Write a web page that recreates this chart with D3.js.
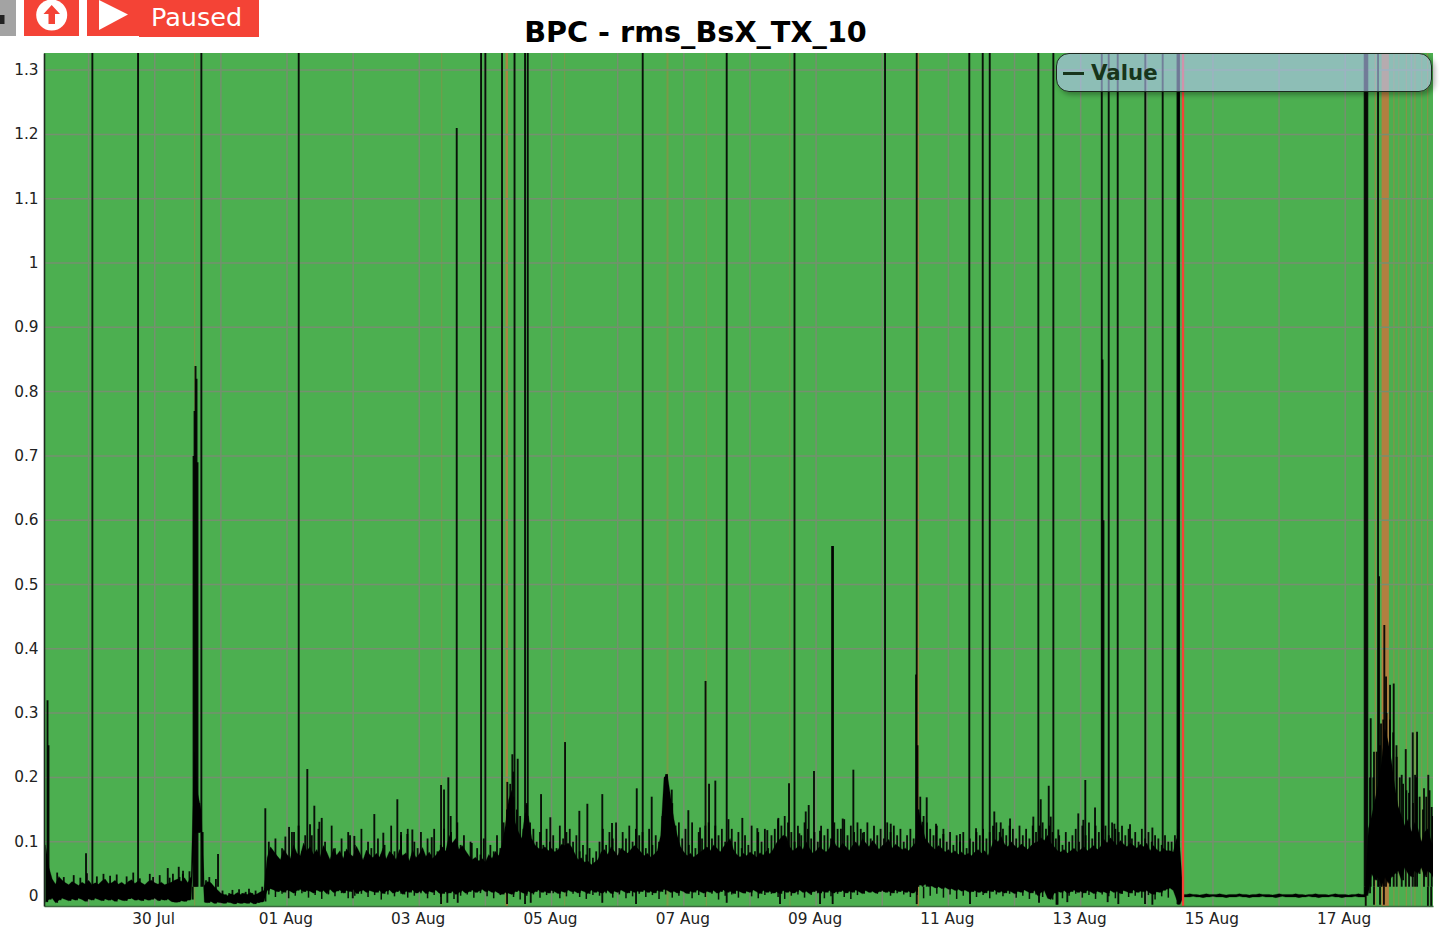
<!DOCTYPE html>
<html>
<head>
<meta charset="utf-8">
<script src="https://cdnjs.cloudflare.com/ajax/libs/d3/7.8.5/d3.min.js"></script>
<style>
html,body{margin:0;padding:0;background:#fff;overflow:hidden}
#wrap{position:relative;width:1444px;height:943px}
svg{position:absolute;left:0;top:0}
#legend{position:absolute;left:1056px;top:53px;width:374px;height:37px;border:1px solid #1c2a1e;border-radius:13px;
 background:rgba(185,200,250,.6);box-shadow:3px 3px 5px rgba(0,0,0,.3)}
#legend i{position:absolute;left:6px;top:18px;width:21px;height:2.5px;background:#17351b}
#legend span{position:absolute;left:34px;top:5px;font:bold 21.3px "DejaVu Sans";color:#17351b;line-height:28px}
</style>
</head>
<body>
<div id="wrap"><svg id="chart" width="1444" height="943"></svg>
<div id="legend"><i></i><span id="legendText"></span></div></div>
<script>
const titleText = "BPC - rms_BsX_TX_10";
const legendLabel = "Value";
const pausedLabel = "Paused";
const timeDomain = ["2021-07-28T07:49Z", "2021-08-18T07:51Z"];
const valueDomain = [0, 1.3266];
const valueTicks = [0,0.1,0.2,0.3,0.4,0.5,0.6,0.7,0.8,0.9,1,1.1,1.2,1.3];
const labelledDays = ["2021-07-30","2021-08-01","2021-08-03","2021-08-05","2021-08-07","2021-08-09","2021-08-11","2021-08-13","2021-08-15","2021-08-17"];
const labelledDayText = ["30 Jul","01 Aug","03 Aug","05 Aug","07 Aug","09 Aug","11 Aug","13 Aug","15 Aug","17 Aug"];
const gridDays = ["2021-07-29","2021-07-30","2021-07-31","2021-08-01","2021-08-02","2021-08-03","2021-08-04","2021-08-05","2021-08-06","2021-08-07","2021-08-08","2021-08-09","2021-08-10","2021-08-11","2021-08-12","2021-08-13","2021-08-14","2021-08-15","2021-08-16","2021-08-17","2021-08-18"];

// All times: days relative to 30 Jul 00:00. The noise band is read every 0.05 day from -1.65.
const bandFirstDay = -1.65, bandStep = 0.05;
const bandHigh = [
.095,.060,.042,.034,.046,.040,.036,.033,.038,.035,.032,.037,.034,.040,.033,.036,.034,.039,.042,.035,
.036,.040,.034,.037,.033,.038,.041,.035,.039,.036,.033,.038,.040,.036,.034,.037,.033,.035,.037,.040,
.042,.038,.044,.036,.046,.240,.175,.150,.032,.038,.036,.030,.025,.020,.018,.016,.019,.017,.021,.018,
.020,.018,.021,.017,.019,.022,.024,.075,.092,.085,.078,.072,.088,.080,.074,.095,.082,.078,.098,.086,
.092,.080,.088,.076,.094,.084,.072,.090,.079,.086,.074,.089,.081,.077,.093,.083,.071,.087,.080,.075,
.082,.076,.090,.073,.085,.080,.072,.088,.078,.083,.070,.087,.075,.081,.091,.077,.084,.074,.079,.086,
.092,.085,.110,.098,.105,.088,.094,.086,.078,.072,.076,.070,.074,.068,.080,.074,.085,.078,.095,.125,
.165,.180,.130,.115,.105,.145,.140,.105,.095,.090,.088,.092,.086,.090,.084,.088,.096,.094,.098,.092,
.082,.072,.075,.068,.070,.064,.068,.072,.084,.088,.080,.092,.085,.078,.090,.086,.082,.088,.094,.090,
.084,.078,.082,.076,.080,.086,.110,.200,.205,.170,.135,.110,.092,.084,.078,.082,.076,.080,.084,.088,
.092,.086,.095,.090,.084,.092,.098,.105,.088,.080,.076,.082,.078,.084,.080,.076,.083,.079,.086,.081,
.088,.098,.104,.110,.108,.092,.086,.090,.094,.088,.100,.090,.082,.086,.092,.088,.084,.090,.105,.094,
.090,.098,.092,.086,.094,.100,.092,.105,.098,.092,.102,.096,.088,.094,.098,.104,.090,.096,.092,.088,
.090,.086,.092,.098,.150,.125,.105,.098,.092,.088,.094,.090,.084,.088,.082,.086,.080,.084,.079,.082,
.078,.084,.088,.082,.086,.078,.092,.104,.100,.108,.096,.092,.100,.094,.090,.096,.092,.088,.094,.098,
.100,.106,.102,.110,.098,.092,.086,.084,.088,.082,.086,.090,.084,.088,.092,.086,.090,.094,.088,.092,
.104,.098,.106,.100,.094,.102,.096,.092,.098,.094,.090,.096,.092,.098,.086,.094,.088,.084,.090,.086,
.086,.084,.105,.090,.018,.018,.019,.018,.018,.017,.018,.019,.018,.018,.018,.019,.018,.017,.018,.018,
.018,.019,.018,.018,.017,.018,.018,.019,.018,.018,.018,.017,.018,.019,.018,.018,.018,.018,.019,.018,
.018,.017,.018,.018,.019,.018,.018,.018,.017,.018,.019,.018,.018,.018,.017,.018,.018,.019,.018,.018,
.120,.140,.165,.190,.225,.275,.255,.225,.185,.155,.140,.125,.135,.115,.130,.120,.100,.115,.120,.100,
.090];
const bandLow = [
.006,.010,.012,.005,.009,.012,.010,.008,.011,.009,.012,.010,.007,.011,.009,.012,.010,.008,.011,.009,
.010,.007,.011,.009,.008,.011,.012,.009,.010,.008,.011,.009,.010,.012,.008,.010,.009,.011,.007,.006,
.006,.008,.007,.009,.010,.113,.114,.115,.006,.005,.007,.004,.006,.005,.004,.006,.005,.003,.005,.004,
.005,.004,.006,.003,.005,.006,.007,.024,.027,.025,.022,.024,.021,.025,.023,.020,.024,.026,.022,.024,
.023,.020,.025,.022,.024,.019,.026,.021,.023,.025,.020,.024,.022,.026,.019,.023,.025,.021,.024,.022,
.021,.024,.019,.023,.025,.020,.022,.024,.018,.023,.021,.025,.020,.022,.024,.019,.023,.021,.025,.020,
.019,.022,.020,.023,.018,.021,.024,.020,.022,.025,.021,.023,.026,.022,.024,.021,.023,.020,.018,.021,
.020,.018,.022,.024,.021,.019,.023,.020,.022,.025,.021,.023,.020,.024,.022,.019,.023,.021,.025,.022,
.023,.020,.024,.022,.019,.025,.021,.023,.020,.022,.024,.019,.023,.021,.025,.022,.020,.024,.021,.023,
.022,.025,.021,.023,.020,.024,.022,.026,.024,.021,.023,.020,.024,.022,.019,.023,.021,.025,.022,.020,
.023,.021,.024,.020,.022,.025,.021,.023,.019,.024,.022,.020,.023,.021,.025,.022,.019,.024,.021,.023,
.020,.022,.019,.024,.021,.023,.020,.022,.025,.021,.023,.019,.022,.024,.020,.023,.021,.024,.020,.022,
.022,.024,.020,.023,.021,.025,.022,.019,.024,.021,.023,.020,.022,.024,.021,.023,.020,.025,.022,.024,
.021,.023,.020,.022,.033,.032,.034,.030,.031,.028,.030,.027,.029,.026,.027,.024,.026,.023,.025,.022,
.022,.024,.021,.023,.020,.024,.022,.025,.021,.023,.020,.024,.022,.019,.023,.021,.025,.022,.020,.024,
.016,.021,.024,.012,.010,.020,.023,.021,.024,.020,.022,.025,.021,.023,.020,.024,.022,.019,.023,.021,
.022,.020,.024,.021,.023,.019,.024,.022,.020,.025,.021,.023,.022,.024,.020,.018,.022,.021,.024,.026,
.028,.024,.010,.002,.014,.014,.014,.015,.014,.014,.013,.014,.014,.015,.014,.014,.014,.013,.014,.014,
.014,.015,.014,.014,.013,.014,.014,.014,.015,.014,.014,.014,.013,.014,.015,.014,.014,.014,.014,.013,
.014,.014,.015,.014,.014,.013,.014,.014,.014,.015,.014,.014,.013,.014,.014,.014,.015,.014,.014,.014,
.020,.050,.040,.045,.030,.045,.035,.045,.050,.055,.040,.060,.050,.045,.055,.050,.060,.045,.055,.050,
.040];

// Short peaks read between the band samples (half a step later); 0 means none.
const peakHigh = [
.050,.030,.030,.052,.030,.045,.030,.030,.048,.030,.044,.030,.051,.030,.030,.046,.030,.050,.030,.047,
.030,.049,.030,.030,.046,.030,.052,.030,.043,.030,.030,.050,.045,.030,.048,.030,.030,.044,.050,.030,
.045,.050,.030,.054,.030,.180,.160,.030,.040,.045,.030,.042,.020,.024,.018,.020,.025,.019,.026,.020,
.022,.027,.020,.024,.018,.030,.028,.100,.080,.105,.070,.090,.108,.075,.115,.080,.125,.085,.110,.075,
.110,.075,.120,.080,.100,.070,.125,.090,.075,.105,.085,.115,.070,.095,.080,.120,.075,.100,.090,.070,
.105,.080,.095,.070,.125,.085,.075,.110,.080,.120,.070,.100,.090,.115,.075,.105,.080,.120,.085,.095,
.120,.090,.140,.085,.130,.095,.110,.080,.100,.070,.090,.080,.105,.070,.095,.085,.110,.090,.130,.150,
.190,.170,.150,.140,.120,.160,.130,.120,.100,.115,.095,.120,.100,.110,.090,.125,.105,.115,.120,.100,
.110,.085,.095,.080,.090,.075,.085,.100,.120,.095,.115,.105,.130,.090,.115,.105,.125,.100,.120,.110,
.115,.090,.120,.095,.110,.100,.140,.190,.170,.160,.125,.130,.105,.120,.095,.130,.090,.115,.105,.125,
.130,.105,.125,.110,.120,.100,.135,.120,.100,.115,.090,.110,.095,.125,.085,.115,.100,.120,.090,.110,
.120,.135,.125,.140,.130,.115,.100,.125,.110,.130,.120,.105,.115,.100,.125,.110,.120,.105,.130,.120,
.120,.135,.110,.125,.115,.130,.120,.115,.130,.105,.125,.110,.120,.105,.130,.115,.125,.110,.120,.100,
.110,.120,.105,.130,.170,.140,.130,.120,.110,.125,.105,.120,.100,.115,.095,.110,.100,.115,.090,.105,
.100,.115,.110,.120,.105,.115,.125,.130,.115,.120,.110,.125,.120,.105,.125,.110,.120,.105,.125,.115,
.125,.130,.120,.125,.115,.105,.110,.095,.115,.100,.110,.120,.100,.125,.110,.130,.105,.125,.115,.120,
.125,.110,.130,.120,.115,.125,.110,.120,.105,.115,.100,.120,.105,.115,.100,.110,.105,.095,.110,.100,
.100,.110,.120,0,0,0,0,0,0,0,0,0,0,0,0,0,0,0,0,0,
0,0,0,0,0,0,0,0,0,0,0,0,0,0,0,0,0,0,0,0,
0,0,0,0,0,0,0,0,0,0,0,0,0,0,0,0,0,0,0,0,
.200,.200,.240,.250,.290,.300,.290,.270,.250,.200,.190,.180,.200,.160,.200,.170,.150,.170,.180,.140];

// Short troughs under the band, read every 0.1 day from 1.725.
const troughFirstDay = 1.725, troughStep = 0.1;
const troughLow = [
.018,.014,.019,.012,.016,.020,.013,.017,.011,.018,.015,.020,.012,.016,.019,.014,.017,.010,.018,.015,
.019,.013,.016,.020,.012,.017,.014,.019,.011,.016,.018,.013,.020,.015,.012,.017,.019,.014,.010,.016,
.018,.013,.017,.020,.012,.015,.019,.014,.011,.017,.016,.020,.013,.018,.012,.015,.019,.014,.017,.011,
.018,.013,.016,.020,.012,.017,.014,.019,.010,.016,.018,.013,.020,.015,.012,.017,.019,.014,.011,.016,
.018,.013,.017,.020,.012,.015,.019,.014,.011,.017,.021,.024,.019,.022,.016,.020,.018,.014,.017,.012,
.016,.019,.013,.018,.011,.016,.020,.014,.017,.012,.018,.015,.019,.013,.016,.011,.018,.014,.017,.020,
.012,.016,.019,.013,.017,.011,.018,.015,.012,.019,.014,.016,.013,.017,.010,.015,.013];

// Spikes that run off the top of the plot.
const fullSpikeDays = [-0.943,-0.252,0.705,2.177,4.934,4.999,5.251,5.440,5.599,5.640,7.378,8.648,9.673,11.042,11.521,12.316,12.519,12.625,13.360,13.587,14.319,14.424,14.560,14.977,15.240,15.464,15.476,15.488,18.294,18.314,18.334,18.496];
const fullSpikeTop = 1.33;

// Spikes that end inside the plot.
const spikeDays = [-1.621,-1.606,-1.039,0.197,0.363,0.428,0.587,0.602,0.617,0.632,0.647,0.957,1.672,2.031,2.106,2.307,2.348,2.413,2.489,2.525,2.953,3.018,3.320,3.456,3.668,3.724,3.819,3.895,4.188,4.329,4.374,4.439,4.480,4.566,4.793,5.331,5.407,5.422,5.488,5.624,5.841,5.981,6.204,6.420,6.541,6.767,6.914,7.288,7.514,7.716,7.731,7.746,7.817,8.068,8.245,8.328,8.381,8.476,8.884,9.111,9.262,9.429,9.590,9.746,9.843,9.888,9.968,10.059,10.241,10.256,10.402,10.563,10.705,11.128,11.511,11.533,11.548,11.612,11.672,11.813,11.923,12.176,12.418,12.694,12.791,12.932,13.109,13.284,13.396,13.517,13.547,13.662,13.964,14.040,14.070,14.217,14.330,14.345,14.509,14.746,15.084,18.385,18.435,18.511,18.541,18.591,18.617,18.678,18.733,18.778,18.854,18.915,18.965,19.021,19.056,19.086,19.191,19.256,19.307];
const spikeTops = [.320,.250,.082,.059,.061,.055,.700,.770,.840,.820,.690,.081,.152,.123,.115,.213,.127,.156,.131,.137,.110,.109,.143,.114,.166,.115,.112,.119,.107,.188,.181,.200,.115,1.210,.098,.193,.236,.209,.229,.157,.174,.138,.255,.148,.159,.174,.129,.183,.170,.200,.205,.205,.181,.149,.122,.350,.190,.195,.137,.121,.118,.137,.191,.113,.147,.157,.210,.117,.560,.560,.136,.212,.114,.128,.360,.250,.150,.131,.169,.128,.112,.112,.121,.147,.130,.136,.096,.139,.166,.187,.139,.119,.144,.134,.196,.153,.850,.600,.128,.127,.122,.292,.240,.513,.284,.437,.357,.344,.346,.232,.204,.244,.176,.270,.204,.271,.183,.204,.154];

// Downward excursions below the noise band.
const dipDays = [2.994,4.329,4.424,4.581,5.327,5.599,5.685,6.767,7.277,8.648,9.454,10.059,10.250,11.521,12.327,13.370,13.635,13.650,13.798,14.408,14.569,14.973,15.084,15.464,15.476,15.488,18.294,18.310,18.334,18.435,18.526,18.585,19.250,19.300];
const dipLows = [.012,.003,.005,.005,.003,.003,.005,.005,.003,.005,.003,.003,.003,.003,.003,.005,.002,.002,.006,.006,.003,.003,.002,.003,.002,.003,.016,.000,.016,.002,.002,.002,.000,.000];

// Status bands behind the trace: start day, end day, strength.
const alertStarts = [0.594,4.329,5.304,6.188,7.738,8.331,9.595,11.526,18.300,18.446,18.550,18.727,18.800,18.915,19.045,19.147,19.237];
const alertEnds   = [0.604,4.339,5.342,6.198,7.768,8.341,9.605,11.556,18.310,18.460,18.660,18.741,18.812,18.929,19.059,19.161,19.251];
const alertStrengths = [.3,.25,.6,.25,.3,.3,.25,.55,.6,.5,.68,.4,.3,.4,.4,.3,.4];
const criticalStart = 15.530, criticalEnd = 15.565;

const margin = {left:44, right:1433, top:53, bottom:906};
const dayMs = 864e5, originMs = Date.UTC(2021,6,30);
const toDate = d => new Date(originMs + d*dayMs);
const x = d3.scaleUtc().domain(timeDomain.map(s=>new Date(s))).range([margin.left, margin.right]);
const y = d3.scaleLinear().domain(valueDomain).range([margin.bottom, margin.top]);
const svg = d3.select("#chart");
svg.append("defs").append("clipPath").attr("id","plot").append("rect")
  .attr("x",margin.left).attr("y",margin.top).attr("width",margin.right-margin.left).attr("height",margin.bottom-margin.top);

svg.append("rect").attr("x",margin.left).attr("y",margin.top).attr("width",margin.right-margin.left).attr("height",margin.bottom-margin.top).attr("fill","#4CAF50");
const plot = svg.append("g").attr("clip-path","url(#plot)");

// status bands
plot.selectAll("rect.alert").data(alertStarts).join("rect").attr("class","alert")
  .attr("x",d=>x(toDate(d))).attr("y",margin.top)
  .attr("width",(d,i)=>Math.max(1.2,x(toDate(alertEnds[i]))-x(toDate(d))))
  .attr("height",margin.bottom-margin.top)
  .attr("fill","#e2693a").attr("opacity",(d,i)=>alertStrengths[i]);

// grid
const gridStyle = sel => sel.attr("stroke","#75906f").attr("stroke-width",1.5);
plot.selectAll("line.gx").data(gridDays).join("line").attr("class","gx")
  .attr("x1",d=>x(new Date(d))).attr("x2",d=>x(new Date(d))).attr("y1",margin.top).attr("y2",margin.bottom).call(gridStyle);
plot.selectAll("line.gy").data(valueTicks.filter(v=>v>0)).join("line").attr("class","gy")
  .attr("y1",d=>y(d)).attr("y2",d=>y(d)).attr("x1",margin.left).attr("x2",margin.right).call(gridStyle);

// noise band
const dayOf = i => bandFirstDay + i*bandStep;
plot.append("path").datum(bandHigh.map((h,i)=>({d:dayOf(i),h,l:bandLow[i]})))
  .attr("fill","#000").attr("stroke","#000").attr("stroke-width",0.3)
  .attr("d",d3.area().x(p=>x(toDate(p.d))).y0(p=>y(p.l)).y1(p=>y(p.h)));

const vline = (cls,days,from,to,width,opacity) => plot.selectAll("line."+cls).data(days).join("line").attr("class",cls)
  .attr("x1",d=>x(toDate(d))).attr("x2",d=>x(toDate(d)))
  .attr("y1",(d,i)=>y(from(i))).attr("y2",(d,i)=>y(to(i)))
  .attr("stroke","#000").attr("stroke-width",width).attr("stroke-opacity",opacity);

const spikeBase = 0.03;
const peakDays = peakHigh.map((v,i)=>dayOf(i)+bandStep/2);
const keptPeaks = d3.range(peakHigh.length).filter(i=>peakHigh[i]>0);
vline("peak",keptPeaks.map(i=>peakDays[i]),i=>bandLow[keptPeaks[i]],i=>peakHigh[keptPeaks[i]],1.8,.92);
vline("trough",troughLow.map((v,i)=>troughFirstDay+i*troughStep),()=>spikeBase,i=>troughLow[i],1.5,.92);
vline("full",fullSpikeDays,()=>spikeBase,()=>fullSpikeTop,1.9,.9);
vline("spike",spikeDays,()=>spikeBase,i=>spikeTops[i],1.9,.9);
vline("dip",dipDays,()=>spikeBase,i=>dipLows[i],1.9,.9);

plot.append("rect").attr("x",x(toDate(criticalStart))).attr("y",margin.top)
  .attr("width",x(toDate(criticalEnd))-x(toDate(criticalStart))).attr("height",margin.bottom-margin.top)
  .attr("fill","#F44336");

// axes
const fmt = (d)=>labelledDayText[labelledDays.indexOf(d3.utcFormat("%Y-%m-%d")(d))];
const gx = svg.append("g").attr("transform",`translate(0,${margin.bottom})`)
  .call(d3.axisBottom(x).tickValues(labelledDays.map(s=>new Date(s))).tickFormat(fmt).tickSize(0).tickPadding(7.5));
gx.select(".domain").attr("stroke","#3a6a3d").attr("stroke-width",1.5);
gx.selectAll("text").attr("font-family","DejaVu Sans").attr("font-size",15.3).attr("fill","#222").attr("dx",-1.6);

const gy = svg.append("g").attr("transform",`translate(${margin.left},0)`)
  .call(d3.axisLeft(y).tickValues(valueTicks).tickFormat(d=>String(d)).tickSize(0).tickPadding(5.5));
gy.select(".domain").attr("stroke","#1c2a1e").attr("stroke-width",1.6);
gy.selectAll("text").attr("font-family","DejaVu Sans").attr("font-size",15.3).attr("fill","#222").attr("dy","0.3em");
gy.selectAll(".tick").filter(d=>d===0).select("text").attr("dy","-0.36em");

// title
svg.append("text").attr("x",695.5).attr("y",41.5).attr("text-anchor","middle")
  .attr("font-family","DejaVu Sans").attr("font-weight","bold").attr("font-size",28.7).attr("fill","#000").text(titleText);

// toolbar
const red = "#F44336";
const bar = svg.append("g");
bar.append("rect").attr("x",0).attr("y",0).attr("width",16).attr("height",36).attr("fill","#a3a3a3");
bar.append("rect").attr("x",0).attr("y",15).attr("width",4.5).attr("height",9).attr("fill","#222");
bar.append("rect").attr("x",24).attr("y",0).attr("width",55).attr("height",36).attr("fill",red);
bar.append("circle").attr("cx",51.7).attr("cy",15).attr("r",15.5).attr("fill","#fff");
bar.append("path").attr("d","M51.7 5 L60 14 L55 14 L55 24 L48.5 24 L48.5 14 L43.5 14 Z").attr("fill",red);
bar.append("rect").attr("x",87).attr("y",0).attr("width",53).attr("height",36).attr("fill",red);
bar.append("rect").attr("x",139).attr("y",0).attr("width",120).attr("height",37).attr("fill",red);
bar.append("path").attr("d","M99 0 L128 14.5 L99 30 Z").attr("fill","#fff");
bar.append("text").attr("x",151).attr("y",26).attr("font-family","DejaVu Sans").attr("font-size",25.5).attr("fill","#fff").text(pausedLabel);

d3.select("#legendText").text(legendLabel);
</script>
</body>
</html>
